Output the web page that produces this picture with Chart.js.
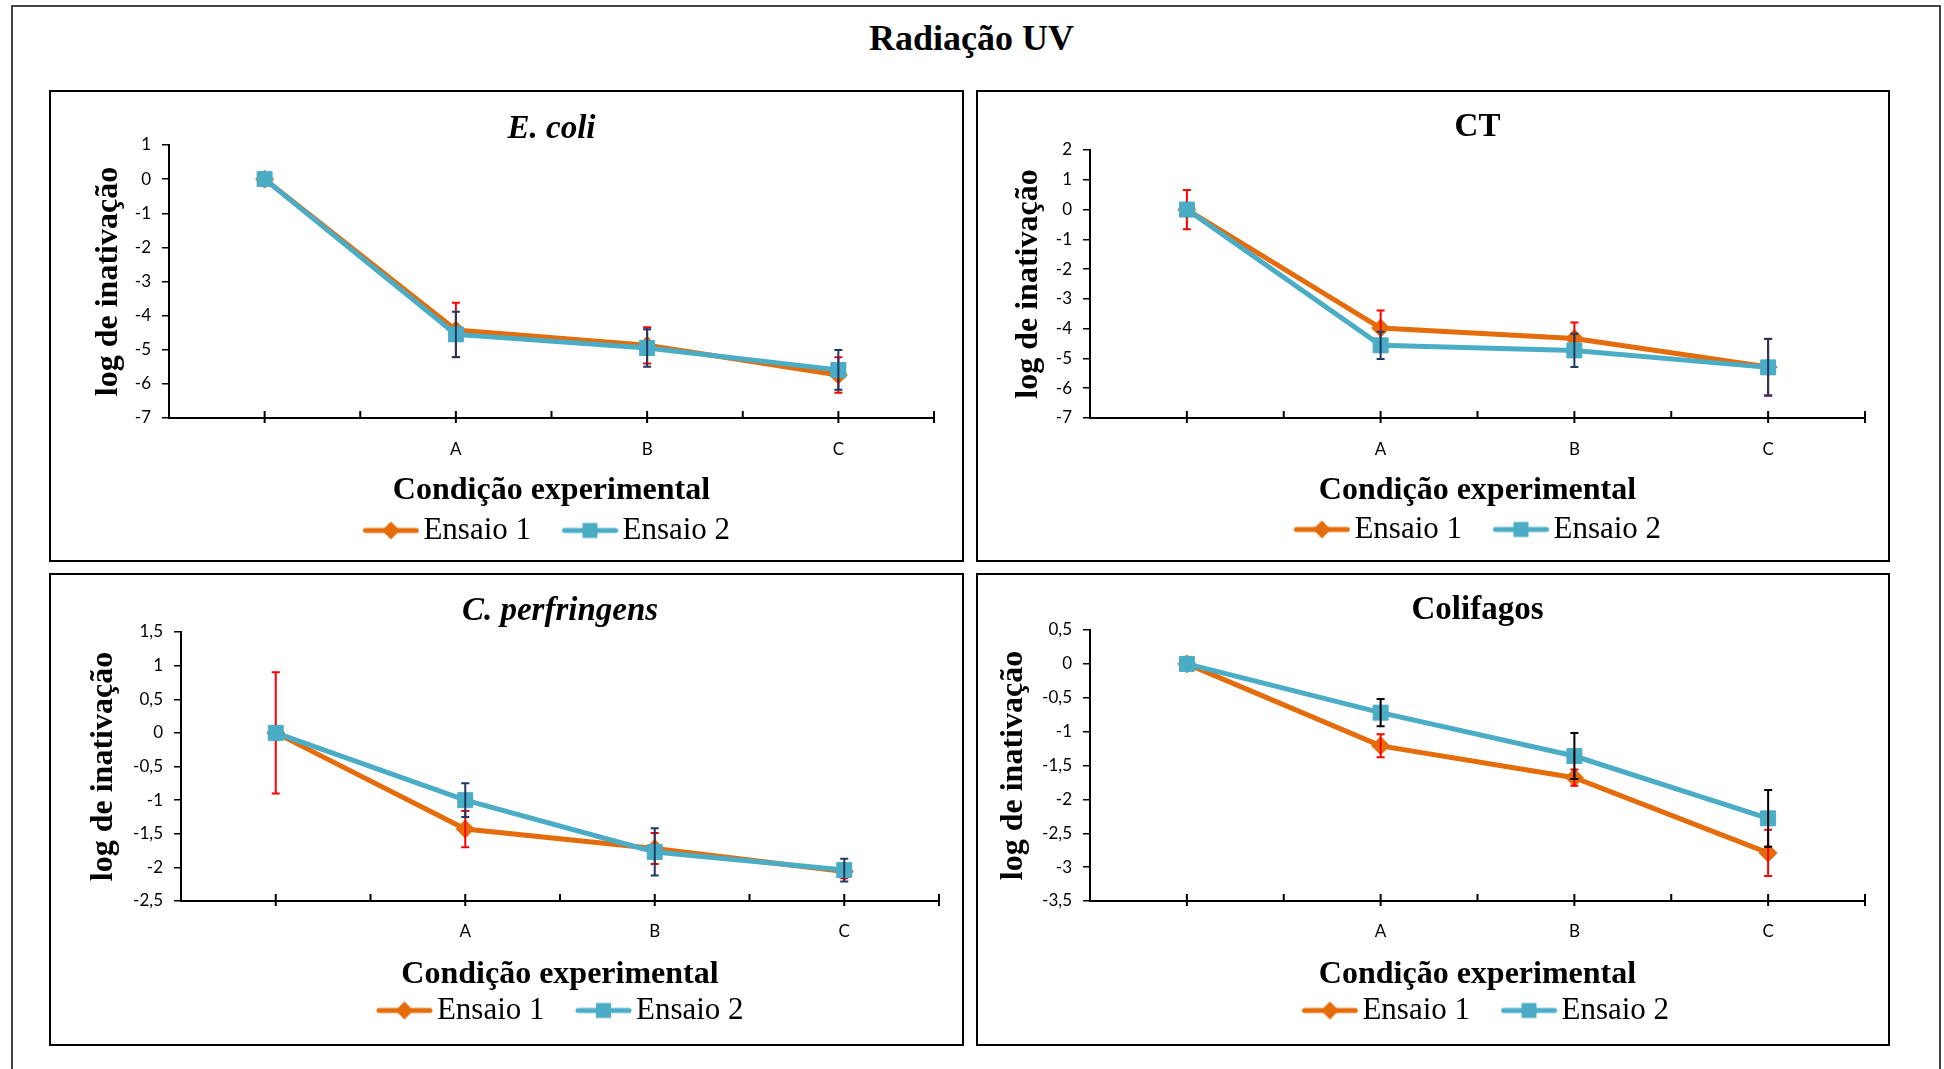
<!DOCTYPE html>
<html>
<head>
<meta charset="utf-8">
<script src="https://cdn.jsdelivr.net/npm/chart.js@4.4.0/dist/chart.umd.min.js"></script>
<style>
  body { margin: 0; background: #fff; width: 1944px; height: 1069px; overflow: hidden; position: relative; }
  #moldura { position: absolute; left: 11px; top: 5px; width: 1930px; height: 1100px; border: 2px solid #444; box-sizing: border-box; }
  #titulo { position: absolute; left: 0; top: 17px; width: 1943px; line-height: 40px; text-align: center;
            font: bold 36px 'Liberation Serif', 'Times New Roman', serif; color: #000; }
  .painel { position: absolute; border: 2px solid #000; box-sizing: border-box; }
  canvas { position: absolute; }
</style>
</head>
<body>
<div id="moldura"></div>
<div id="titulo">Radiação UV</div>
<script>
// posições no eixo x (o primeiro ponto é o controle, sem rótulo)
const posicoes = [1, 3, 5, 7];
const condicoes = ['', 'A', 'B', 'C'];
const series = ['Ensaio 1', 'Ensaio 2'];

// E. coli
const ecoliEnsaio1 = [0, -4.42, -4.87, -5.74];
const ecoliErro1   = [0, 0.80, 0.53, 0.52];
const ecoliEnsaio2 = [0, -4.55, -4.95, -5.59];
const ecoliErro2   = [0, 0.66, 0.55, 0.58];
const ecoliEixoY   = [-7, 1, 1];

// CT
const ctEnsaio1 = [0, -3.98, -4.33, -5.29];
const ctErro1   = [0.66, 0.59, 0.54, 0.95];
const ctEnsaio2 = [0, -4.56, -4.73, -5.30];
const ctErro2   = [0, 0.46, 0.56, 0.95];
const ctEixoY   = [-7, 2, 1];

// C. perfringens
const cpEnsaio1 = [0, -1.43, -1.72, -2.06];
const cpErro1   = [0.90, 0.27, 0.23, 0.10];
const cpEnsaio2 = [0, -1.00, -1.77, -2.04];
const cpErro2   = [0, 0.25, 0.35, 0.17];
const cpEixoY   = [-2.5, 1.5, 0.5];

// Colifagos
const colEnsaio1 = [0, -1.21, -1.68, -2.79];
const colErro1   = [0, 0.17, 0.12, 0.34];
const colEnsaio2 = [0, -0.72, -1.36, -2.28];
const colErro2   = [0, 0.20, 0.34, 0.42];
const colEixoY   = [-3.5, 0.5, 0.5];

const LARANJA = '#E46C0A';
const AZUL = '#4BACC6';
const SERIF = "'Liberation Serif', 'Times New Roman', serif";

Chart.defaults.font.family = 'Lato, sans-serif';
Chart.defaults.color = '#000';

// barras de erro desenhadas logo depois de cada série
const barrasErro = {
  id: 'barrasErro',
  afterDatasetDraw(chart, args) {
    const ds = chart.data.datasets[args.index];
    if (!ds.erro) return;
    const sx = chart.scales.x, sy = chart.scales.y, ctx = chart.ctx;
    ctx.save();
    ctx.strokeStyle = ds.corErro;
    ctx.lineWidth = 2;
    ds.data.forEach((p, i) => {
      const e = ds.erro[i];
      if (!e) return;
      const px = sx.getPixelForValue(p.x);
      const y1 = sy.getPixelForValue(p.y + e);
      const y2 = sy.getPixelForValue(p.y - e);
      ctx.beginPath();
      ctx.moveTo(px, y1); ctx.lineTo(px, y2);
      ctx.moveTo(px - 4, y1); ctx.lineTo(px + 4, y1);
      ctx.moveTo(px - 4, y2); ctx.lineTo(px + 4, y2);
      ctx.stroke();
    });
    ctx.restore();
  }
};

// marcas do eixo x (para cima, cruzando nas categorias)
const marcasX = {
  id: 'marcasX',
  beforeDatasetsDraw(chart) {
    const s = chart.scales.x, ctx = chart.ctx, y0 = s.top;
    ctx.save();
    ctx.strokeStyle = '#000';
    ctx.lineWidth = 2;
    s.ticks.forEach(t => {
      if (t.value <= s.min) return;
      const px = s.getPixelForValue(t.value);
      const cruza = t.value % 2 === 1 || t.value === s.max;
      ctx.beginPath();
      ctx.moveTo(px, y0 - 7);
      ctx.lineTo(px, y0 + (cruza ? 5 : 0));
      ctx.stroke();
    });
    ctx.restore();
  }
};

// pequeno deslocamento horizontal da legenda
const ajusteLegenda = {
  id: 'ajusteLegenda',
  afterLayout(chart, args, opts) {
    if (!chart.legend || !opts.dx) return;
    chart.legend.left += opts.dx;
    chart.legend.right += opts.dx;
  }
};

function imagemLegenda(cor, forma) {
  const c = document.createElement('canvas');
  c.width = 68; c.height = 24;
  const g = c.getContext('2d');
  g.strokeStyle = cor; g.fillStyle = cor;
  g.lineWidth = 5; g.lineCap = 'round';
  g.beginPath(); g.moveTo(14, 12); g.lineTo(65, 12); g.stroke();
  g.beginPath();
  if (forma === 'rectRot') {
    g.moveTo(39.5, 3); g.lineTo(48.5, 12); g.lineTo(39.5, 21); g.lineTo(30.5, 12);
  } else {
    g.rect(32, 4.5, 15, 15);
  }
  g.closePath(); g.fill();
  return c;
}
const imgLeg = [imagemLegenda(LARANJA, 'rectRot'), imagemLegenda(AZUL, 'rect')];

const paineis = [
  { titulo: 'E. coli', italico: true, e1: ecoliEnsaio1, err1: ecoliErro1, e2: ecoliEnsaio2, err2: ecoliErro2, eixo: ecoliEixoY, corErro2: '#1F3864',
    geo: { caixa: [49, 90, 964, 562], plot: [169, 934, 145, 418], tituloY: 129.5, tituloEixoY: 109, rotuloX: 448, tituloEixoX: 487, legendaY: 528, dxLeg: -5 } },
  { titulo: 'CT', italico: false, e1: ctEnsaio1, err1: ctErro1, e2: ctEnsaio2, err2: ctErro2, eixo: ctEixoY, corErro2: '#1F3864',
    geo: { caixa: [976, 90, 1890, 562], plot: [1090, 1865, 150, 418], tituloY: 127.5, tituloEixoY: 1029, rotuloX: 448, tituloEixoX: 487, legendaY: 527, dxLeg: 0 } },
  { titulo: 'C. perfringens', italico: true, e1: cpEnsaio1, err1: cpErro1, e2: cpEnsaio2, err2: cpErro2, eixo: cpEixoY, corErro2: '#1F3864',
    geo: { caixa: [49, 573, 964, 1046], plot: [181, 939, 632, 901], tituloY: 611, tituloEixoY: 104, rotuloX: 930, tituloEixoX: 971, legendaY: 1008, dxLeg: 0 } },
  { titulo: 'Colifagos', italico: false, e1: colEnsaio1, err1: colErro1, e2: colEnsaio2, err2: colErro2, eixo: colEixoY, corErro2: '#000000',
    geo: { caixa: [976, 573, 1890, 1046], plot: [1090, 1865, 630, 901], tituloY: 610, tituloEixoY: 1014, rotuloX: 930, tituloEixoX: 971, legendaY: 1008, dxLeg: 8 } }
];

function criarPainel(p) {
  const g = p.geo;
  const caixa = document.createElement('div');
  caixa.className = 'painel';
  caixa.style.left = g.caixa[0] + 'px';
  caixa.style.top = g.caixa[1] + 'px';
  caixa.style.width = (g.caixa[2] - g.caixa[0]) + 'px';
  caixa.style.height = (g.caixa[3] - g.caixa[1]) + 'px';
  document.body.appendChild(caixa);

  const cl = g.caixa[0] + 2, ct = g.caixa[1] + 2;
  const W = g.caixa[2] - g.caixa[0] - 4;
  const H = Math.round(g.legendaY - ct + 15.5);
  const cv = document.createElement('canvas');
  cv.width = W; cv.height = H;
  cv.style.left = cl + 'px'; cv.style.top = ct + 'px';
  cv.style.width = W + 'px'; cv.style.height = H + 'px';
  document.body.appendChild(cv);

  const esq = g.plot[0] - cl, dir = g.plot[1] - cl, topo = g.plot[2] - ct, base = g.plot[3] - ct;
  const legTopo = H - 60;
  const alturaX = legTopo - base;
  const tPad = g.tituloY - ct - 16.5;

  new Chart(cv, {
    type: 'line',
    data: {
      datasets: [
        { label: series[0], data: posicoes.map((x, i) => ({ x: x, y: p.e1[i] })),
          borderColor: LARANJA, backgroundColor: LARANJA, borderWidth: 5, tension: 0,
          pointStyle: 'rectRot', pointRadius: 9, pointHoverRadius: 9, pointBorderWidth: 1,
          order: 1, erro: p.err1, corErro: '#FF0000' },
        { label: series[1], data: posicoes.map((x, i) => ({ x: x, y: p.e2[i] })),
          borderColor: AZUL, backgroundColor: AZUL, borderWidth: 5, tension: 0,
          pointStyle: 'rect', pointRadius: 10.6, pointHoverRadius: 10.6, pointBorderWidth: 1,
          order: 0, erro: p.err2, corErro: p.corErro2 }
      ]
    },
    options: {
      responsive: false,
      animation: false,
      layout: { padding: { left: 0, top: 0, bottom: 0, right: W - dir } },
      plugins: {
        tooltip: { enabled: false },
        ajusteLegenda: { dx: g.dxLeg },
        title: {
          display: true, text: p.titulo, fullSize: false, color: '#000',
          font: { family: SERIF, size: 33, weight: 'bold', style: p.italico ? 'italic' : 'normal', lineHeight: 1 },
          padding: { top: tPad, bottom: topo - tPad - 33 }
        },
        legend: {
          position: 'bottom', fullSize: false, maxHeight: 60,
          labels: {
            usePointStyle: true, pointStyleWidth: 45, padding: 31, color: '#000',
            font: { family: SERIF, size: 31 },
            generateLabels: chart => chart.data.datasets.map((ds, i) => ({
              text: ds.label, pointStyle: imgLeg[i], fillStyle: ds.borderColor,
              strokeStyle: ds.borderColor, lineWidth: 0, hidden: false, datasetIndex: i
            }))
          }
        }
      },
      scales: {
        x: {
          type: 'linear', min: 0, max: 8,
          afterFit: s => { s.height = alturaX; },
          grid: { display: false },
          border: { display: true, color: '#000', width: 2 },
          ticks: {
            stepSize: 1, autoSkip: false, maxRotation: 0, padding: g.rotuloX - g.plot[3] - 17,
            color: '#000', font: { size: 17 },
            callback: v => { const i = posicoes.indexOf(v); return i >= 0 ? condicoes[i] : ''; }
          },
          title: {
            display: true, text: 'Condição experimental', color: '#000',
            font: { family: SERIF, size: 32, weight: 'bold', lineHeight: 1 },
            padding: { top: 0, bottom: legTopo - (g.tituloEixoX + 3.5 - ct) - 16 }
          }
        },
        y: {
          min: p.eixo[0], max: p.eixo[1],
          afterFit: s => { s.width = esq; },
          grid: { drawOnChartArea: false, drawTicks: true, tickLength: 7, color: '#000', lineWidth: 1.5 },
          border: { display: true, color: '#000', width: 2 },
          ticks: {
            stepSize: p.eixo[2], autoSkip: false, padding: 11, color: '#000', font: { size: 17 },
            callback: v => String(v).replace('.', ',')
          },
          title: {
            display: true, text: 'log de inativação', color: '#000',
            font: { family: SERIF, size: 32, weight: 'bold', lineHeight: 1 },
            padding: { top: g.tituloEixoY - cl - 16, bottom: 0 }
          }
        }
      }
    },
    plugins: [barrasErro, marcasX, ajusteLegenda]
  });
}

paineis.forEach(criarPainel);
</script>
</body>
</html>
